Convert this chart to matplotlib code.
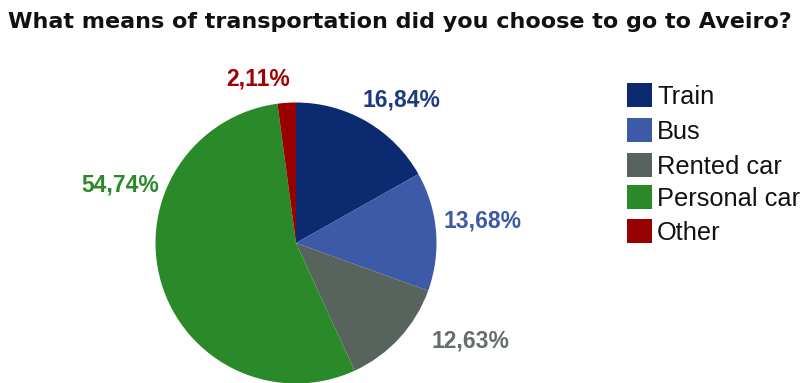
import matplotlib
matplotlib.use("Agg")
import matplotlib.pyplot as plt
from matplotlib.patches import Rectangle

# survey answers (percent of respondents)
modes = ["Train", "Bus", "Rented car", "Personal car", "Other"]
shares = [16.84, 13.68, 12.63, 54.74, 2.11]
colors = ["#0b2a6f", "#3c5aa8", "#59635d", "#2a8a2a", "#990000"]
label_colors = ["#1f3a80", "#3c5aa8", "#666e6a", "#2a8a2a", "#a00000"]
# label anchor points, in pie-radius units from the centre
label_pos = [(0.75, 1.02), (1.33, 0.16), (1.24, -0.70), (-1.25, 0.41), (-0.27, 1.17)]

W, H = 802, 383
fig = plt.figure(figsize=(W / 100, H / 100), dpi=100)
fig.patch.set_facecolor("white")

sans = ["Liberation Sans", "DejaVu Sans"]

# pie axes: centre (296, 243) px from top-left, radius ~140 px
cx, cy, r = 296, 243, 140.5
ax = fig.add_axes([(cx - r) / W, (H - cy - r) / H, 2 * r / W, 2 * r / H])
ax.pie(shares, colors=colors, startangle=90, counterclock=False, radius=1,
       wedgeprops=dict(linewidth=0, antialiased=True))
ax.set_xlim(-1, 1)
ax.set_ylim(-1, 1)
ax.set_aspect("equal")
ax.axis("off")
for p in ax.patches:
    p.set_clip_on(False)

for val, (lx, ly), c in zip(shares, label_pos, label_colors):
    txt = f"{val:.2f}%".replace(".", ",")
    ax.text(lx, ly, txt, color=c, fontsize=16.5, fontweight="bold",
            family=sans, ha="center", va="center", clip_on=False)

fig.text(8 / W, 1 - 22 / H, "What means of transportation did you choose to go to Aveiro?",
         fontsize=16, fontweight="bold", family="DejaVu Sans", ha="left",
         va="center", color="#111111")

# legend drawn in figure pixels
tops = [83, 118, 153, 185, 219]
for name, c, top in zip(modes, colors, tops):
    fig.patches.append(Rectangle((627 / W, 1 - (top + 24) / H), 25 / W, 24 / H,
                                 transform=fig.transFigure, facecolor=c,
                                 edgecolor="none"))
    fig.text(657 / W, 1 - (top + 14) / H, name, fontsize=18.3, family=sans,
             color="#111111", ha="left", va="center")

fig.savefig("out.png", dpi=100, facecolor="white")
